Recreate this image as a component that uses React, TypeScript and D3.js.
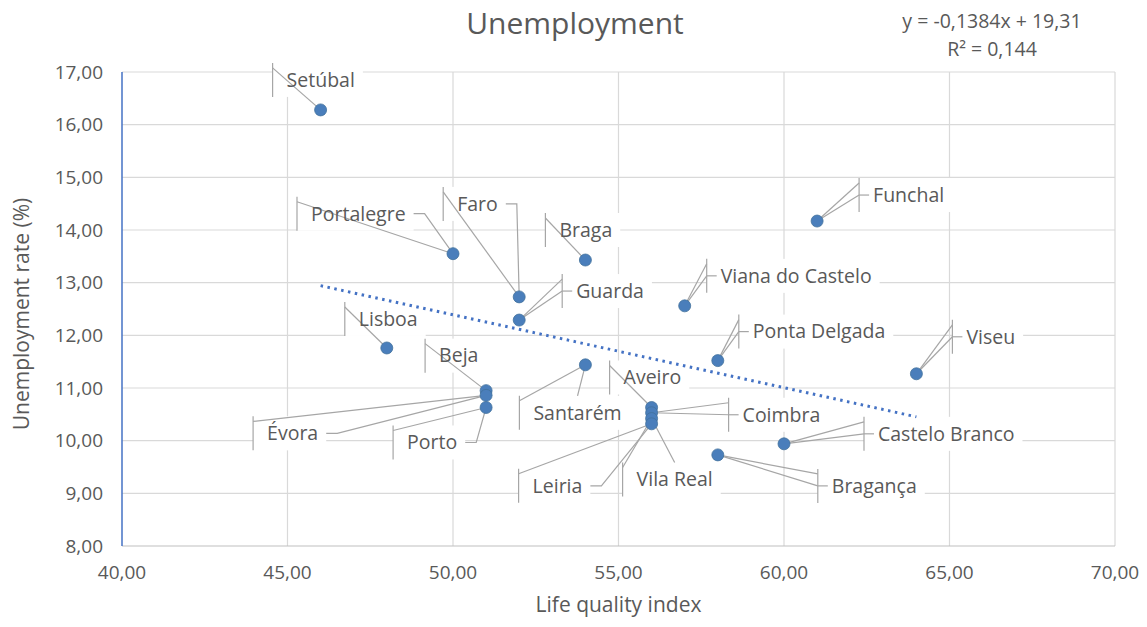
import { useRef, useEffect } from 'react';
import * as d3 from 'd3';

// data
const cities = ['Setúbal', 'Portalegre', 'Faro', 'Guarda', 'Braga', 'Funchal', 'Viana do Castelo', 'Ponta Delgada', 'Viseu', 'Lisboa',
  'Beja', 'Évora', 'Porto', 'Santarém', 'Aveiro', 'Coimbra', 'Vila Real', 'Leiria', 'Castelo Branco', 'Bragança'];
const lifeIndex = [46, 50, 52, 52, 54, 61, 57, 58, 64, 48, 51, 51, 51, 54, 56, 56, 56, 56, 60, 58];
const unemploymentRate = [16.28, 13.55, 12.73, 12.29, 13.43, 14.17, 12.56, 11.52, 11.27, 11.76,
  10.95, 10.86, 10.63, 11.44, 10.63, 10.53, 10.42, 10.32, 9.94, 9.73];
const xTicks = [40, 45, 50, 55, 60, 65, 70];
const yTicks = [8, 9, 10, 11, 12, 13, 14, 15, 16, 17];
const trendSlope = -0.1384;
const trendIntercept = 19.31;
const equationLines = ['y = -0,1384x + 19,31', 'R² = 0,144'];

// label placement (pixel offsets of the label text from its point) and leader line kinds
const labelDx = [-34, -142, -62, 57, -26, 56, 36, 35, 50, -28, -47, -219, -79, -52, -28, 91, -15, -119, 94, 114];
const labelDy = [-30, -40, -93, -29, -30, -26, -30, -29, -37, -29, -35, 38, 35, 48, -30, 2, 61, 62, -10, 31];
const labelLeaders = ['tl', 'tl rm', 'tl rm', 'tl lm', 'tl', 'tl lm', 'tl lm', 'tl lm', 'tl lm', 'tl',
  'tl', 'tl rm', 'tl rm', 'tl tc', 'tl', 'tl lm', 'tl tc', 'tl rm', 'tl lm', 'tl lm'];

const W = 1147, H = 627;
const margin = { top: 72, right: 32, bottom: 81, left: 122 };
const font = '"Open Sans", sans-serif';
const textColor = '#595959';
const fmt = (v: number) => d3.format('.2f')(v).replace('.', ',');

export default function App() {
  const svgRef = useRef<SVGSVGElement>(null);

  useEffect(() => {
    const svg = d3.select(svgRef.current);
    svg.selectAll('*').remove();

    const x = d3.scaleLinear().domain([40, 70]).range([margin.left, W - margin.right]);
    const y = d3.scaleLinear().domain([8, 17]).range([H - margin.bottom, margin.top]);

    svg.append('rect').attr('width', W).attr('height', H).attr('fill', '#fff');

    // grid
    svg.append('g').selectAll('line').data(yTicks.slice(1)).join('line')
      .attr('x1', x(40)).attr('x2', x(70))
      .attr('y1', d => y(d)).attr('y2', d => y(d))
      .attr('stroke', '#d9d9d9').attr('stroke-width', 1.2);
    svg.append('g').selectAll('line').data(xTicks.slice(1)).join('line')
      .attr('x1', d => x(d)).attr('x2', d => x(d))
      .attr('y1', y(8)).attr('y2', y(17))
      .attr('stroke', '#d9d9d9').attr('stroke-width', 1.2);
    svg.append('line').attr('x1', x(40)).attr('x2', x(70)).attr('y1', y(8)).attr('y2', y(8))
      .attr('stroke', '#bfbfbf').attr('stroke-width', 1.2);
    svg.append('line').attr('x1', x(40)).attr('x2', x(40)).attr('y1', y(8)).attr('y2', y(17))
      .attr('stroke', '#4472c4').attr('stroke-width', 1.5);

    // tick labels
    svg.append('g').selectAll('text').data(yTicks).join('text')
      .attr('x', x(40) - 19).attr('y', d => y(d)).attr('dy', '0.35em')
      .attr('text-anchor', 'end').attr('font-family', font).attr('font-size', 19).attr('fill', textColor)
      .text(d => fmt(d));
    svg.append('g').selectAll('text').data(xTicks).join('text')
      .attr('x', d => x(d)).attr('y', y(8) + 26).attr('dy', '0.35em')
      .attr('text-anchor', 'middle').attr('font-family', font).attr('font-size', 19).attr('fill', textColor)
      .text(d => fmt(d));

    // titles
    svg.append('text').attr('x', 575).attr('y', 23).attr('dy', '0.35em').attr('text-anchor', 'middle')
      .attr('font-family', font).attr('font-size', 30).attr('fill', textColor).text('Unemployment');
    svg.append('text').attr('x', (x(40) + x(70)) / 2).attr('y', 605).attr('dy', '0.35em').attr('text-anchor', 'middle')
      .attr('font-family', font).attr('font-size', 21).attr('fill', textColor).text('Life quality index');
    svg.append('text').attr('transform', `translate(22,314) rotate(-90)`).attr('dy', '0.35em')
      .attr('text-anchor', 'middle').attr('font-family', font).attr('font-size', 21).attr('fill', textColor)
      .text('Unemployment rate (%)');
    svg.append('g').selectAll('text').data(equationLines).join('text')
      .attr('x', 992).attr('y', (d, i) => 21 + i * 28).attr('dy', '0.35em').attr('text-anchor', 'middle')
      .attr('font-family', font).attr('font-size', 19.5).attr('fill', textColor).text(d => d);

    // labels
    const pts = cities.map((c, i) => ({
      name: c, px: x(lifeIndex[i]), py: y(unemploymentRate[i]),
      tx: x(lifeIndex[i]) + labelDx[i], ty: y(unemploymentRate[i]) + labelDy[i],
      leaders: labelLeaders[i].split(' ')
    }));

    const boxG = svg.append('g');
    const leaderG = svg.append('g').attr('stroke', '#a6a6a6').attr('stroke-width', 1.2).attr('fill', 'none');
    const textG = svg.append('g');

    pts.forEach(p => {
      const t = textG.append('text').attr('x', p.tx).attr('y', p.ty).attr('dy', '0.35em')
        .attr('font-family', font).attr('font-size', 19.5).attr('fill', textColor).text(p.name);
      const tw = (t.node() as SVGTextElement).getComputedTextLength();
      const x0 = p.tx - 14, x1 = p.tx + tw + 8, y0 = p.ty - 17, y1 = p.ty + 17;
      boxG.append('rect').attr('x', x0).attr('y', y0).attr('width', x1 - x0).attr('height', y1 - y0).attr('fill', '#fff');
      // bracket
      leaderG.append('line').attr('x1', x0).attr('x2', x0).attr('y1', y0).attr('y2', y1);
      p.leaders.forEach(k => {
        if (k === 'tl') {
          leaderG.append('line').attr('x1', p.px).attr('y1', p.py).attr('x2', x0).attr('y2', y0 + 5);
        } else if (k === 'lm') {
          leaderG.append('line').attr('x1', x0).attr('x2', x0 + 10).attr('y1', p.ty).attr('y2', p.ty);
          leaderG.append('line').attr('x1', p.px).attr('y1', p.py).attr('x2', x0).attr('y2', p.ty);
        } else if (k === 'rm') {
          const sx = p.tx + tw + 8;
          leaderG.append('path').attr('d', `M${sx},${p.ty}H${sx + 11}L${p.px},${p.py}`);
        } else if (k === 'tc') {
          leaderG.append('line').attr('x1', p.px).attr('y1', p.py).attr('x2', p.tx + tw / 2).attr('y2', y0);
        }
      });
    });

    // trendline
    const xs = d3.extent(lifeIndex) as [number, number];
    svg.append('line')
      .attr('x1', x(xs[0])).attr('y1', y(trendSlope * xs[0] + trendIntercept))
      .attr('x2', x(xs[1])).attr('y2', y(trendSlope * xs[1] + trendIntercept))
      .attr('stroke', '#4472c4').attr('stroke-width', 3).attr('stroke-dasharray', '2.5 4.5');

    // points
    svg.append('g').selectAll('circle').data(pts).join('circle')
      .attr('cx', d => d.px).attr('cy', d => d.py).attr('r', 6)
      .attr('fill', '#4a7ebb').attr('stroke', '#41719c').attr('stroke-width', 0.8);
  }, []);

  return (
    <svg ref={svgRef} width={W} height={H} style={{ position: 'absolute', left: 0, top: 0 }} />
  );
}
